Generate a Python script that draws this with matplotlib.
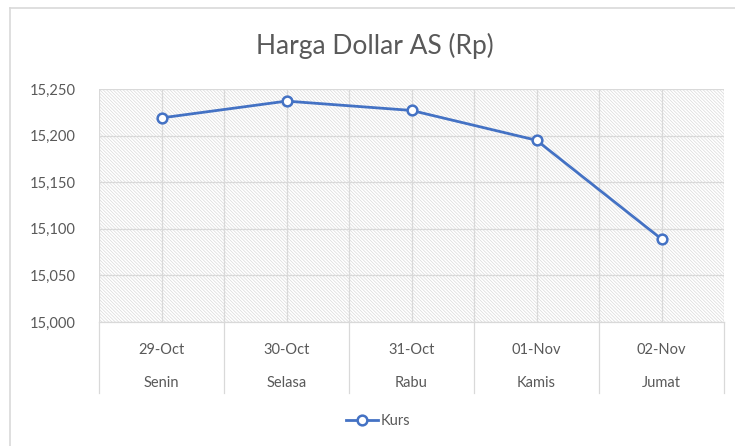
import matplotlib
matplotlib.use("Agg")
import matplotlib.pyplot as plt
from matplotlib.patches import Rectangle
from matplotlib.lines import Line2D

dates = ["29-Oct", "30-Oct", "31-Oct", "01-Nov", "02-Nov"]
days = ["Senin", "Selasa", "Rabu", "Kamis", "Jumat"]
kurs = [15219, 15237, 15227, 15195, 15089]
yticks = [15000, 15050, 15100, 15150, 15200, 15250]
title = "Harga Dollar AS (Rp)"
series_name = "Kurs"

W, H = 735, 446
plt.rcParams['font.family'] = ['Lato', 'DejaVu Sans']
plt.rcParams['hatch.linewidth'] = 0.5
plt.rcParams['hatch.color'] = '#dadada'

fig = plt.figure(figsize=(W / 100, H / 100), dpi=100)
fig.patch.set_facecolor('white')

# outer chart border (left and top visible)
fig.add_artist(Line2D([10 / W, 10 / W], [0, 1 - 8 / H], transform=fig.transFigure,
                      color='#d9d9d9', lw=1.2))
fig.add_artist(Line2D([10 / W, 1], [1 - 8 / H, 1 - 8 / H], transform=fig.transFigure,
                      color='#d9d9d9', lw=1.2))

left, right, top, bottom = 99, 724, 89, 322
ax = fig.add_axes([left / W, 1 - bottom / H, (right - left) / W, (bottom - top) / H])
n = len(dates)
ax.set_xlim(-0.5, n - 0.5)
ax.set_ylim(yticks[0], yticks[-1])

# hatched plot area
ax.add_patch(Rectangle((0, 0), 1, 1, transform=ax.transAxes, facecolor='white',
                       hatch='\\' * 10, edgecolor='#dadada', lw=0, zorder=0))

# gridlines
for yv in yticks:
    ax.axhline(yv, color='#d9d9d9', lw=0.9, zorder=1)
for i in range(n * 2 + 1):
    ax.axvline(-0.5 + i * 0.5, color='#d9d9d9', lw=0.9, zorder=1)

ax.plot(range(n), kurs, color='#4472C4', lw=2.0, marker='o', markersize=7,
        markerfacecolor='white', markeredgecolor='#4472C4', markeredgewidth=1.8,
        zorder=3, solid_capstyle='round')

for s in ax.spines.values():
    s.set_visible(False)
ax.set_xticks([])
ax.set_yticks(yticks)
ax.set_yticklabels([f"{v:,}" for v in yticks], color='#595959', fontsize=10.5)
ax.tick_params(axis='y', length=0, pad=17)

# category axis: separators and two-level labels
trans = ax.get_xaxis_transform()
sep_bottom = -(393 - bottom) / (bottom - top)
for i in range(n + 1):
    ax.plot([-0.5 + i, -0.5 + i], [0, sep_bottom], transform=trans,
            color='#d9d9d9', lw=0.9, clip_on=False)
ax.plot([-0.5, n - 0.5], [0, 0], transform=trans, color='#d9d9d9', lw=0.9, clip_on=False)
y_date = -(350 - bottom) / (bottom - top)
y_day = -(383 - bottom) / (bottom - top)
for i in range(n):
    ax.text(i, y_date, dates[i], transform=trans, ha='center', va='center',
            color='#595959', fontsize=10.5)
    ax.text(i, y_day, days[i], transform=trans, ha='center', va='center',
            color='#595959', fontsize=10.5)

fig.text(375 / W, 1 - 46 / H, title, ha='center', va='center', color='#595959', fontsize=19)

handle = Line2D([], [], color='#4472C4', lw=2.0, marker='o', markersize=7,
                markerfacecolor='white', markeredgecolor='#4472C4', markeredgewidth=1.8)
fig.legend([handle], [series_name], loc='center', bbox_to_anchor=(378 / W, 1 - 421 / H),
           frameon=False, fontsize=10.5, labelcolor='#595959', handlelength=2.2,
           handletextpad=0.2)

fig.savefig("out.png", dpi=100, facecolor='white')
